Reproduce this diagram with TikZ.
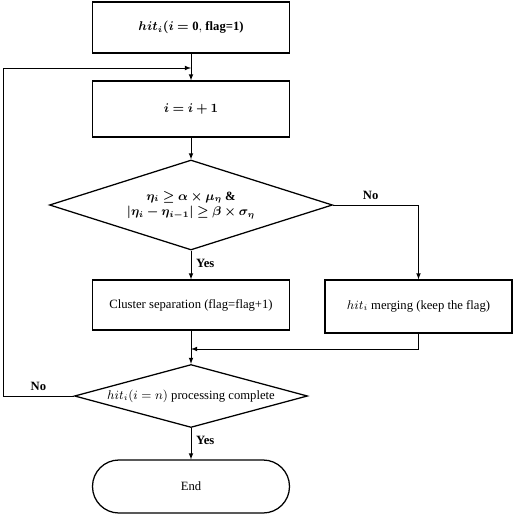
\documentclass[tikz,border=0pt]{standalone}
\usepackage{bm}
\usepackage{fontspec}
\setmainfont{Liberation Serif}
\usetikzlibrary{shapes.geometric}

\begin{document}
\begin{tikzpicture}
	[every node/.style={font=\fontsize{9}{11}\selectfont},
	procbox/.style={rectangle,draw,line width=0.9pt,minimum width=4.925cm,inner sep=2pt},
	decision/.style={diamond,draw,line width=0.9pt,inner sep=0pt,align=center},
	endbox/.style={rectangle,rounded corners=0.66cm,draw,line width=0.9pt,minimum width=4.925cm,minimum height=1.325cm},
	flow/.style={-latex,line width=0.5pt},
	answer/.style={font=\fontsize{9}{11}\selectfont\bfseries}]
	\useasboundingbox (0,0) rectangle (12.925,-12.875);
	\node (start) [procbox,minimum height=1.275cm] at (4.775,-0.69) {$\bm{hit_i(i}$ $\bm{=}\mathbf{0},$ \textbf{flag=1)}};
	\node (incr) [procbox,minimum height=1.4cm] at (4.775,-2.725) {$\bm{i=i+1}$};
	\node (test) [decision,aspect=3.14,minimum width=7.075cm,minimum height=2.25cm] at (4.775,-5.125)
		{$\bm{\eta_i\ge\alpha\times\mu_\eta}$ \textbf{\&}\\ $\bm{|\eta_i-\eta_{i-1}|\ge\beta\times\sigma_\eta}$};
	\node (split) [procbox,minimum height=1.25cm] at (4.775,-7.625) {Cluster separation (flag=flag+1)};
	\node (merge) [procbox,minimum width=4.675cm,minimum height=1.325cm] at (10.4625,-7.6625) {$hit_i$ merging (keep the flag)};
	\node (done) [decision,aspect=3.7,minimum width=5.825cm,minimum height=1.575cm] at (4.775,-9.9) {$hit_i(i=n)$ processing complete};
	\node (end) [endbox] at (4.775,-12.1625) {End};
	\coordinate (loopin) at (4.775,-1.7);
	\coordinate (join) at (4.775,-8.725);
	\coordinate (loopout) at (0.075,-9.9);
	\draw [flow] (start) -- (incr);
	\draw [flow] (incr) -- (test);
	\draw [flow] (test) -- node [answer,right,pos=0.45] {Yes} (split);
	\draw [flow] (test.east) -| node [answer,above,pos=0.22] {No} (merge.north);
	\draw [flow] (split) -- (done);
	\draw [flow] (merge.south) |- (join);
	\draw [flow] (done.south) -- node [answer,right,pos=0.4] {Yes} (end);
	\draw (done.west) -- node [answer,above] {No} (loopout);
	\draw [flow] (loopout) |- (loopin);
\end{tikzpicture}
\end{document}
